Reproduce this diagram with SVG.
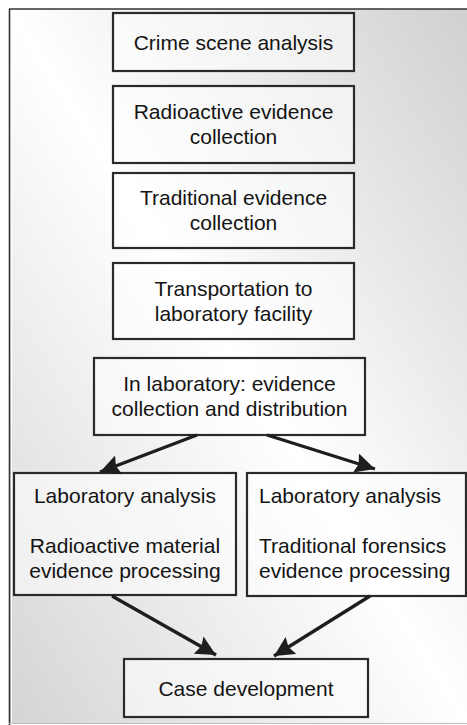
<svg xmlns="http://www.w3.org/2000/svg" width="467" height="725" viewBox="0 0 467 725">
  <defs>
    <linearGradient id="bg" x1="1" y1="0" x2="0" y2="1">
      <stop offset="0" stop-color="#cfd0d0"/>
      <stop offset="0.5" stop-color="#ffffff"/>
      <stop offset="1" stop-color="#d4d4d4"/>
    </linearGradient>
    <marker id="head" markerUnits="userSpaceOnUse" markerWidth="22" markerHeight="20" refX="20" refY="10" orient="auto">
      <path d="M0,0 L20,10 L0,20 L3,10 Z" fill="#1e1e1e"/>
    </marker>
  </defs>
  <style>
    .box { fill: #ffffff; fill-opacity: 0.55; stroke: #2a2a2a; stroke-width: 2.2; }
    .lbl { font-family: "Liberation Sans", Arial, sans-serif; font-size: 21px; fill: #141414; text-anchor: middle; }
    .left { text-anchor: start; }
    .conn line { stroke: #1e1e1e; stroke-width: 3.4; marker-end: url(#head); }
  </style>

  <!-- framed panel -->
  <rect x="0" y="0" width="467" height="725" fill="#ffffff"/>
  <rect x="9" y="9" width="460" height="714" fill="url(#bg)"/>
  <line x1="9.5" y1="9" x2="9.5" y2="725" stroke="#333" stroke-width="1.6"/>
  <line x1="9" y1="9" x2="467" y2="9" stroke="#333" stroke-width="1.6"/>
  <line x1="11.5" y1="11" x2="11.5" y2="723" stroke="#ffffff" stroke-width="1"/>
  <line x1="9" y1="723.5" x2="467" y2="723.5" stroke="#bdbdbd" stroke-width="1"/>

  <g id="crime-scene">
    <rect class="box" x="113" y="13" width="241" height="58"/>
    <text class="lbl" x="233.5" y="49.5">Crime scene analysis</text>
  </g>
  <g id="radioactive-collection">
    <rect class="box" x="113" y="86" width="241" height="77"/>
    <text class="lbl" x="233.5" y="119">Radioactive evidence</text>
    <text class="lbl" x="233.5" y="144">collection</text>
  </g>
  <g id="traditional-collection">
    <rect class="box" x="113" y="173" width="241" height="75"/>
    <text class="lbl" x="233.5" y="205">Traditional evidence</text>
    <text class="lbl" x="233.5" y="230">collection</text>
  </g>
  <g id="transportation">
    <rect class="box" x="113" y="263" width="241" height="76"/>
    <text class="lbl" x="233.5" y="295.5">Transportation to</text>
    <text class="lbl" x="233.5" y="320.5">laboratory facility</text>
  </g>
  <g id="lab-distribution">
    <rect class="box" x="94" y="358" width="271" height="77"/>
    <text class="lbl" x="229.5" y="391">In laboratory: evidence</text>
    <text class="lbl" x="229.5" y="416">collection and distribution</text>
  </g>
  <g id="lab-radioactive">
    <rect class="box" x="14" y="473" width="222" height="122"/>
    <text class="lbl" x="125" y="502.5">Laboratory analysis</text>
    <text class="lbl" x="125" y="553">Radioactive material</text>
    <text class="lbl" x="125" y="578">evidence processing</text>
  </g>
  <g id="lab-traditional">
    <rect class="box" x="247" y="473" width="219" height="123"/>
    <text class="lbl left" x="259" y="502.5">Laboratory analysis</text>
    <text class="lbl left" x="259" y="553">Traditional forensics</text>
    <text class="lbl left" x="259" y="578">evidence processing</text>
  </g>
  <g id="case-development">
    <rect class="box" x="124" y="659" width="244" height="58"/>
    <text class="lbl" x="246" y="695.5">Case development</text>
  </g>

  <g id="connectors" class="conn">
    <line x1="197" y1="435" x2="100" y2="472"/>
    <line x1="267" y1="435" x2="375" y2="469"/>
    <line x1="112" y1="596" x2="216" y2="655"/>
    <line x1="370" y1="596" x2="274" y2="656"/>
  </g>
</svg>
